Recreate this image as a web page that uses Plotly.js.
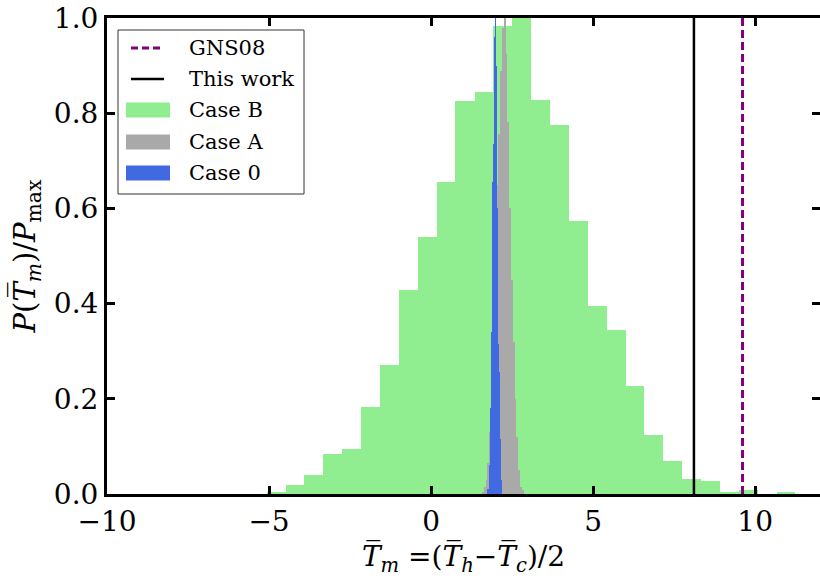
<!DOCTYPE html>
<html>
<head>
<meta charset="utf-8">
<script src="https://cdn.plot.ly/plotly-3.0.1.min.js"></script>
<style>html,body{margin:0;padding:0;background:#fff;}#chart{width:820px;height:579px;}</style>
</head>
<body>
<div id="chart"></div>
<script>
// ---- data ----
// histogram bin edges (n+1 values) and normalised heights (n values)
const caseB_edges = [-5.07,-4.49,-3.91,-3.33,-2.74,-2.16,-1.58,-0.99,-0.41,0.17,0.75,1.34,1.92,2.50,3.09,3.67,4.25,4.83,5.42,6.00,6.58,7.17,7.75,8.33,8.91,9.50,10.08,10.66,11.24];
const caseB_vals = [0.004,0.019,0.040,0.084,0.095,0.183,0.270,0.429,0.540,0.655,0.826,0.845,0.983,1.0,0.828,0.775,0.574,0.395,0.345,0.227,0.124,0.069,0.032,0.027,0.004,0.008,0,0.004];

const caseA_edges = [1.570,1.626,1.682,1.738,1.794,1.850,1.906,1.962,2.018,2.074,2.130,2.186,2.242,2.298,2.354,2.410,2.466,2.522,2.578,2.634,2.690,2.746,2.802,2.858];
const caseA_vals = [0.005,0.015,0.03,0.065,0.13,0.22,0.35,0.5,0.65,0.756,0.889,0.979,1.0,0.924,0.782,0.6,0.45,0.32,0.2,0.12,0.05,0.015,0.008];

const case0_edges = [1.726,1.757,1.788,1.819,1.850,1.880,1.911,1.942,1.973,2.004,2.035,2.066,2.096,2.127,2.158,2.189];
const case0_vals = [0.01,0.01,0.06,0.18,0.34,0.655,0.735,0.96,1.0,0.90,0.60,0.315,0.256,0.115,0.03];

const thisWork_x = 8.11;
const gns08_x = 9.61;

const xTicks = [-10,-5,0,5,10];
const yTicks = [0,0.2,0.4,0.6,0.8,1.0];

const legendLabels = ["GNS08","This work","Case B","Case A","Case 0"];

// ---- colours ----
const cB = "#90EE90", cA = "#A9A9A9", c0 = "#4169E1", cPurple = "#800080";

function barTrace(edges, vals, color, name){
  const left = edges.slice(0, vals.length);
  const widths = left.map((e,i)=>edges[i+1]-e);
  return {type:"bar", x:left, y:vals, width:widths, offset:0,
          marker:{color:color, line:{width:0}}, name:name, showlegend:false,
          hoverinfo:"skip"};
}

const traces = [
  barTrace(caseB_edges, caseB_vals, cB, "Case B"),
  barTrace(caseA_edges, caseA_vals, cA, "Case A"),
  barTrace(case0_edges, case0_vals, c0, "Case 0"),
  {type:"scatter", mode:"lines", x:[thisWork_x,thisWork_x], y:[0,1], line:{color:"#000", width:2.5}, name:"This work", showlegend:false},
  {type:"scatter", mode:"lines", x:[gns08_x,gns08_x], y:[0,1], line:{color:cPurple, width:3, dash:"8px,4px"}, name:"GNS08", showlegend:false}
];

// manual legend (pixel -> paper helpers)
const L=107, T=18, W=713, H=476;
const px = v => (v-L)/W;
const py = v => (T+H-v)/H;

const shapes = [
  {type:"rect", xref:"paper", yref:"paper", x0:px(118), x1:px(304), y0:py(194), y1:py(30), line:{color:"#333", width:1}, fillcolor:"#fff", layer:"above"}
];
const rowY = [48,79,110,142,173];
shapes.push({type:"line", xref:"paper", yref:"paper", x0:px(131), x1:px(164), y0:py(rowY[0]), y1:py(rowY[0]), line:{color:cPurple,width:3,dash:"7px,4px"}, layer:"above"});
shapes.push({type:"line", xref:"paper", yref:"paper", x0:px(131), x1:px(164), y0:py(rowY[1]), y1:py(rowY[1]), line:{color:"#000",width:2.5}, layer:"above"});
[cB,cA,c0].forEach((c,i)=>{
  const yc=rowY[i+2];
  shapes.push({type:"rect", xref:"paper", yref:"paper", x0:px(126), x1:px(170), y0:py(yc+7.5), y1:py(yc-7.5), line:{width:0}, fillcolor:c, layer:"above"});
});
const annotations = legendLabels.map((t,i)=>({
  text:t, xref:"paper", yref:"paper", x:px(187), y:py(rowY[i]), xanchor:"left", yanchor:"middle",
  showarrow:false, font:{family:"DejaVu Serif", size:21, color:"#000"}
}));

const axisCommon = {showgrid:false, zeroline:false, showline:true, linecolor:"#000", linewidth:3,
  mirror:"ticks", ticks:"inside", ticklen:8, tickwidth:3, tickcolor:"#000",
  tickfont:{family:"DejaVu Serif", size:28, color:"#000"}};

const layout = {
  width:820, height:579,
  margin:{l:L, r:0, t:T, b:579-T-H},
  paper_bgcolor:"#fff", plot_bgcolor:"#fff",
  barmode:"overlay", bargap:0,
  showlegend:false,
  xaxis:Object.assign({}, axisCommon, {range:[-10,12], tickvals:xTicks, ticktext:xTicks.map(v=>v<0?"\u2212"+Math.abs(v):String(v)),
    title:{text:"<i>T\u0305</i><sub><i>m</i></sub> =(<i>T\u0305</i><sub><i>h</i></sub>\u2212<i>T\u0305</i><sub><i>c</i></sub>)/2", font:{family:"DejaVu Serif", size:28, color:"#000"}, standoff:10}}),
  yaxis:Object.assign({}, axisCommon, {range:[0,1], tickvals:yTicks, ticktext:yTicks.map(v=>v.toFixed(1)),
    title:{text:"<i>P</i>(<i>T\u0305</i><sub><i>m</i></sub>)/<i>P</i><sub>max</sub>", font:{family:"DejaVu Serif", size:29, color:"#000"}, standoff:10}}),
  shapes:shapes, annotations:annotations
};

Plotly.newPlot("chart", traces, layout, {displayModeBar:false, staticPlot:true});
</script>
</body>
</html>
